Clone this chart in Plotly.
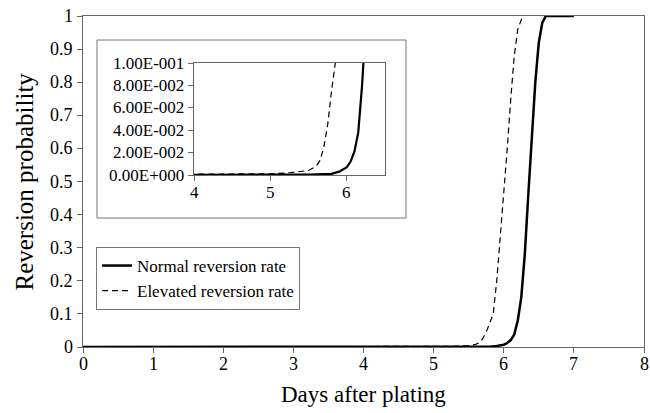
import plotly.graph_objects as go

# Data
normal_days = [0, 5.0, 5.5, 5.8, 5.9, 6.0, 6.05, 6.1, 6.15, 6.2, 6.25, 6.3, 6.35, 6.4, 6.45, 6.5, 6.55, 6.6, 7.0]
normal_prob = [0, 0, 0.0003, 0.001, 0.003, 0.007, 0.012, 0.021, 0.038, 0.08, 0.15, 0.28, 0.46, 0.64, 0.8, 0.92, 0.98, 1.0, 1.0]

elev_days = [0, 5.0, 5.25, 5.5, 5.6, 5.65, 5.7, 5.75, 5.8, 5.85, 5.9, 5.95, 6.0, 6.05, 6.1, 6.15, 6.2, 6.25, 6.27]
elev_prob = [0, 0.001, 0.002, 0.004, 0.008, 0.013, 0.025, 0.045, 0.075, 0.1, 0.2, 0.33, 0.45, 0.6, 0.75, 0.88, 0.96, 0.99, 1.0]

main_xticks = [0, 1, 2, 3, 4, 5, 6, 7, 8]
main_xlabels = ["0", "1", "2", "3", "4", "5", "6", "7", "8"]
main_yticks = [0, 0.1, 0.2, 0.3, 0.4, 0.5, 0.6, 0.7, 0.8, 0.9, 1]
main_ylabels = ["0", "0.1", "0.2", "0.3", "0.4", "0.5", "0.6", "0.7", "0.8", "0.9", "1"]
inset_xticks = [4, 5, 6]
inset_xlabels = ["4", "5", "6"]
inset_yticks = [0, 0.02, 0.04, 0.06, 0.08, 0.1]
inset_ylabels = ["0.00E+000", "2.00E-002", "4.00E-002", "6.00E-002", "8.00E-002", "1.00E-001"]

FONT = "Liberation Serif"
AXC = "#666666"

fig = go.Figure()
fig.add_trace(go.Scatter(x=normal_days, y=normal_prob, mode="lines", name="Normal reversion rate",
                         line=dict(color="black", width=2.5)))
fig.add_trace(go.Scatter(x=elev_days, y=elev_prob, mode="lines", name="Elevated reversion rate",
                         line=dict(color="black", width=1.2, dash="6px,4px")))
fig.add_trace(go.Scatter(x=normal_days, y=normal_prob, mode="lines", showlegend=False,
                         xaxis="x2", yaxis="y2", line=dict(color="black", width=2.2)))
fig.add_trace(go.Scatter(x=elev_days, y=elev_prob, mode="lines", showlegend=False,
                         xaxis="x2", yaxis="y2", line=dict(color="black", width=1.2, dash="6px,4px")))

W, H = 650, 413
L, R, T, B = 83, 644, 16, 347
pw, ph = R - L, B - T

def px(x):
    return (x - L) / pw

def py(y):
    return (B - y) / ph

fig.add_shape(type="rect", xref="paper", yref="paper",
              x0=px(97), x1=px(406), y0=py(218), y1=py(40),
              line=dict(color="#777777", width=1), fillcolor="white", layer="below")

# Tick labels as serif text placed through the axes' own scales
for v, t in zip(main_xticks, main_xlabels):
    fig.add_annotation(x=v, xref="x", y=0, yref="y", text=t, showarrow=False,
                       yanchor="top", xanchor="center", yshift=-5,
                       font=dict(family=FONT, size=18, color="black"))
for v, t in zip(main_yticks, main_ylabels):
    fig.add_annotation(x=0, xref="x", y=v, yref="y", text=t, showarrow=False,
                       xanchor="right", yanchor="middle", xshift=-8,
                       font=dict(family=FONT, size=18, color="black"))
for v, t in zip(inset_xticks, inset_xlabels):
    fig.add_annotation(x=v, xref="x2", y=0, yref="y2", text=t, showarrow=False,
                       yanchor="top", xanchor="center", yshift=-6,
                       font=dict(family=FONT, size=17, color="black"))
for v, t in zip(inset_yticks, inset_ylabels):
    fig.add_annotation(x=4, xref="x2", y=v, yref="y2", text=t, showarrow=False,
                       xanchor="right", yanchor="middle", xshift=-8,
                       font=dict(family=FONT, size=17, color="black"))

# Axis titles
fig.add_annotation(x=0.5, xref="paper", y=py(394), yref="paper", text="Days after plating",
                   showarrow=False, xanchor="center", yanchor="middle",
                   font=dict(family=FONT, size=23, color="black"))
fig.add_annotation(x=px(24), xref="paper", y=0.5, yref="paper", text="Reversion probability",
                   showarrow=False, xanchor="center", yanchor="middle", textangle=-90,
                   font=dict(family=FONT, size=25, color="black"))

axis_common = dict(ticks="outside", ticklen=5, tickcolor=AXC, showline=True, linecolor=AXC,
                   linewidth=1, mirror=True, showgrid=False, zeroline=False, automargin=False,
                   showticklabels=False)

fig.update_layout(
    template="none",
    width=W, height=H,
    margin=dict(l=L, r=W - R, t=T, b=H - B, autoexpand=False),
    paper_bgcolor="white", plot_bgcolor="white",
    font=dict(family=FONT, color="black", size=18),
    xaxis=dict(range=[0, 8], tickvals=main_xticks, **axis_common),
    yaxis=dict(range=[0, 1], tickvals=main_yticks, **axis_common),
    xaxis2=dict(domain=[px(194), px(385)], anchor="y2", range=[4, 6.5], tickvals=inset_xticks,
                **axis_common),
    yaxis2=dict(domain=[py(175), py(63)], anchor="x2", range=[0, 0.1], tickvals=inset_yticks,
                **axis_common),
    legend=dict(x=px(96), y=py(247), xanchor="left", yanchor="top",
                bordercolor="#777777", borderwidth=1, bgcolor="white",
                font=dict(size=17, family=FONT), tracegroupgap=0),
    showlegend=True,
)

fig.write_html("out.html")
